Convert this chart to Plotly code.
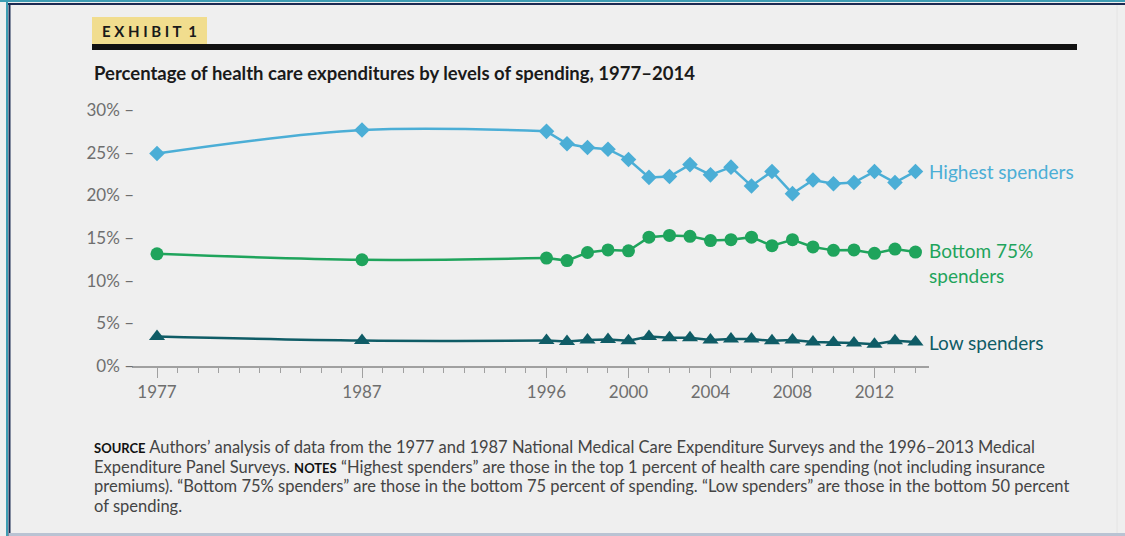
import plotly.graph_objects as go

# --- data -------------------------------------------------------------
years = [1977, 1987, 1996, 1997, 1998, 1999, 2000, 2001, 2002, 2003, 2004,
         2005, 2006, 2007, 2008, 2009, 2010, 2011, 2012, 2013, 2014]

highest = [24.9, 27.65, 27.5, 26.05, 25.6, 25.4, 24.2, 22.1, 22.2, 23.6, 22.4,
           23.3, 21.1, 22.8, 20.2, 21.8, 21.35, 21.5, 22.8, 21.5, 22.8]
bottom75 = [13.15, 12.45, 12.65, 12.35, 13.3, 13.6, 13.5, 15.1, 15.3, 15.2, 14.7,
            14.8, 15.1, 14.1, 14.8, 13.95, 13.55, 13.6, 13.2, 13.7, 13.35]
low = [3.45, 2.98, 2.98, 2.86, 3.05, 3.1, 2.95, 3.45, 3.3, 3.3, 3.05,
       3.15, 3.15, 2.95, 3.05, 2.8, 2.75, 2.7, 2.55, 2.95, 2.8]

series_names = ["Highest spenders", "Bottom 75%<br>spenders", "Low spenders"]
series_colors = ["#4BAED6", "#1FA45C", "#0F5C66"]
series_symbols = ["diamond", "circle", "triangle-up"]
series_sizes = [12, 13, 14]

y_tick_vals = [0, 5, 10, 15, 20, 25, 30]
y_tick_text = ["0% –", "5% –", "10% –", "15% –", "20% –", "25% –", "30% –"]
x_major_ticks = [1977, 1987, 1996, 2000, 2004, 2008, 2012]
x_minor_ticks = list(range(1977, 2015))

TAG = "<b>E X H I B I T  1</b>"
TITLE = "<b>Percentage of health care expenditures by levels of spending, 1977–2014</b>"
SMALLCAPS = "<b><span style='font-size:13px;color:#111'>{}</span></b>"
NOTE_LINES = [
    SMALLCAPS.format("SOURCE") + " Authors’ analysis of data from the 1977 and 1987 "
    "National Medical Care Expenditure Surveys and the 1996–2013 Medical",
    "Expenditure Panel Surveys. " + SMALLCAPS.format("NOTES") +
    " “Highest spenders” are those in the top 1 percent of health care spending (not including insurance",
    "premiums). “Bottom 75% spenders” are those in the bottom 75 percent of spending. "
    "“Low spenders” are those in the bottom 50 percent",
    "of spending.",
]

# --- layout geometry (pixels) -----------------------------------------
W_PX, H_PX = 1125, 536
L, R, T, B = 132, 196, 110, 170
PW, PH = W_PX - L - R, H_PX - T - B


def px(x):
    return (x - L) / PW


def py(y):
    return (T + PH - y) / PH


FONT = "Lato"
BG = "#EFEFEF"

fig = go.Figure()

values = [highest, bottom75, low]
for vals, color, sym, size in zip(values, series_colors, series_symbols, series_sizes):
    # the survey gap years (1977-1996) are joined by a smooth curve
    fig.add_trace(go.Scatter(
        x=years[:3], y=vals[:3], mode="lines",
        line=dict(color=color, width=2.5, shape="spline", smoothing=1.0),
        hoverinfo="skip", showlegend=False))
    fig.add_trace(go.Scatter(
        x=years[2:], y=vals[2:], mode="lines",
        line=dict(color=color, width=2.5),
        hoverinfo="skip", showlegend=False))
    fig.add_trace(go.Scatter(
        x=years, y=vals, mode="markers",
        marker=dict(symbol=sym, size=size, color=color),
        showlegend=False))

# series labels at the right end of each line
label_y = [highest[-1], bottom75[-1] - 1.3, low[-1]]
for name, color, yv in zip(series_names, series_colors, label_y):
    fig.add_annotation(
        x=2014.55, y=yv, xref="x", yref="y", text=name, showarrow=False,
        xanchor="left", yanchor="middle", align="left",
        font=dict(family=FONT, size=19, color=color))

# exhibit tag, rule and title
fig.add_shape(type="rect", xref="paper", yref="paper",
              x0=px(92), x1=px(207), y0=py(44), y1=py(17),
              fillcolor="#F1DD8E", line_width=0, layer="below")
fig.add_annotation(x=px(100), y=py(31), xref="paper", yref="paper",
                   text=TAG, showarrow=False,
                   xanchor="left", yanchor="middle",
                   font=dict(family=FONT, size=15, color="#1A1A1A"))
fig.add_shape(type="rect", xref="paper", yref="paper",
              x0=px(92), x1=px(1077), y0=py(50), y1=py(44),
              fillcolor="#111111", line_width=0)
fig.add_annotation(x=px(92), y=py(73), xref="paper", yref="paper",
                   text=TITLE, showarrow=False, xanchor="left", yanchor="middle",
                   font=dict(family=FONT, size=18.5, color="#1A1A1A"))

# source and notes, one annotation per line for tight leading
for i, line in enumerate(NOTE_LINES):
    fig.add_annotation(x=px(92), y=py(447 + 19.7 * i), xref="paper", yref="paper",
                       text=line, showarrow=False, xanchor="left", yanchor="middle",
                       align="left",
                       font=dict(family=FONT, size=16.5, color="#444444"))

# page frame
fig.add_shape(type="line", xref="paper", yref="paper",
              x0=px(0), x1=px(1125), y0=py(1), y1=py(1),
              line=dict(color="#3E9DB3", width=2))
fig.add_shape(type="line", xref="paper", yref="paper",
              x0=px(7), x1=px(1125), y0=py(4), y1=py(4),
              line=dict(color="#1B2A52", width=2))
fig.add_shape(type="line", xref="paper", yref="paper",
              x0=px(7), x1=px(7), y0=py(0), y1=py(536),
              line=dict(color="#3E9DB3", width=2))
fig.add_shape(type="line", xref="paper", yref="paper",
              x0=px(9.5), x1=px(9.5), y0=py(4), y1=py(536),
              line=dict(color="#1B2A52", width=2))
fig.add_shape(type="line", xref="paper", yref="paper",
              x0=px(9), x1=px(1125), y0=py(534.5), y1=py(534.5),
              line=dict(color="#B9C3D3", width=3))
fig.add_shape(type="line", xref="paper", yref="paper",
              x0=px(1117), x1=px(1117), y0=py(5), y1=py(533),
              line=dict(color="#E4E4E4", width=1))

fig.update_layout(
    width=W_PX, height=H_PX,
    margin=dict(l=L, r=R, t=T, b=B),
    paper_bgcolor=BG, plot_bgcolor=BG,
    showlegend=False,
    xaxis=dict(
        range=[1975.78, 2014.66], showgrid=False, zeroline=False,
        showline=True, linecolor="#A0A0A0", linewidth=1.5,
        tickmode="array", tickvals=x_major_ticks,
        ticks="outside", ticklen=10, tickcolor="#A0A0A0", tickwidth=1.2,
        minor=dict(tickmode="array", tickvals=x_minor_ticks, ticks="outside",
                   ticklen=5, tickcolor="#A0A0A0", tickwidth=1.2),
        tickfont=dict(family=FONT, size=17, color="#6E6E6E"),
        fixedrange=True),
    yaxis=dict(
        range=[0, 30], showgrid=False, zeroline=False, showline=False,
        tickmode="array", tickvals=y_tick_vals, ticktext=y_tick_text,
        ticks="", ticklabelstandoff=-3,
        tickfont=dict(family=FONT, size=17, color="#6E6E6E"),
        fixedrange=True),
)

fig.write_html("out.html")
